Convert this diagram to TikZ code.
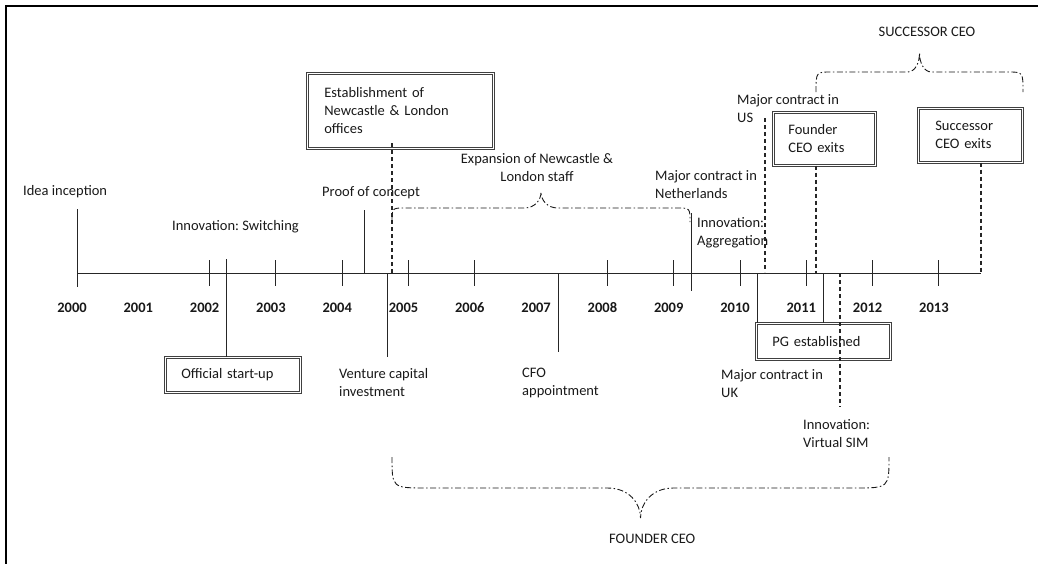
\documentclass[tikz,border=0pt]{standalone}
\usepackage{fontspec}
\setmainfont{Carlito}
\frenchspacing
\begin{document}
\begin{tikzpicture}[x=1pt,y=-1pt,
  every node/.style={font=\fontsize{14.5}{18}\selectfont, text=black!90},
  txt/.style={inner sep=0pt, anchor=west, align=left},
  yr/.style={inner sep=0pt, font=\fontsize{14.5}{18}\selectfont\bfseries},
  evbox/.style={draw=black!75, double=white, double distance=1.3pt, line width=0.6pt,
     align=left, anchor=north west, inner ysep=0pt},
  ln/.style={draw=black!85, line width=1pt},
  dsh/.style={draw=black!85, line width=1.1pt, dash pattern=on 4pt off 3pt},
  brc/.style={draw=black!90, line width=0.9pt, dash pattern=on 6pt off 2.5pt on 1.5pt off 2.5pt},
  frm/.style={draw=black, line width=2pt}
]
\useasboundingbox (0,0) rectangle (1038,563);
\newcommand\ceobrace[7]{%
 \pgfmathsetmacro\bxm{(#1+#2)/2}%
 \pgfmathsetmacro\bya{#4+0.5*(#5-#4)}%
 \draw[brc] (#1,#3) .. controls (#1,#4) .. ({#1+#6},#4) -- ({\bxm-#7},#4)
   .. controls ({\bxm-0.35*#7},#4) and (\bxm,\bya) .. (\bxm,#5)
   .. controls (\bxm,\bya) and ({\bxm+0.35*#7},#4) .. ({\bxm+#7},#4)
   -- ({#2-#6},#4) .. controls (#2,#4) .. (#2,#3);
}
% frame
\coordinate (fa) at (6,570);
\coordinate (fb) at (6,6);
\coordinate (fc) at (1045,6);
\draw[frm] (fa) -- (fb) -- (fc);

% timeline
\coordinate (t0) at (77,273);
\coordinate (tend) at (981,273);
\draw[ln] (t0) -- (tend);
\foreach \k in {2,3,4,5,6,8,9,10,11,12,13}
  \draw[ln] ({77+66.3*\k},260) -- ({77+66.3*\k},286);
\foreach \k in {0,...,13}{
  \pgfmathtruncatemacro\yy{2000+\k}
  \node[yr] (y\k) at ({72+66.3*\k},308) {\yy};
}

% boxes
\node[evbox, text width=152pt, inner xsep=17pt, minimum height=75pt] (estab) at (307,73)
  {Establishment of\\Newcastle \& London\\offices};
\node[evbox, text width=72pt, inner xsep=15pt, minimum height=53pt] (fexit) at (773,112)
  {Founder\\CEO exits};
\node[evbox, text width=70pt, inner xsep=17pt, minimum height=54pt] (sexit) at (918,108)
  {Successor\\CEO exits};
\node[evbox, text width=103pt, inner xsep=16pt, minimum height=35pt] (start) at (165,357)
  {Official start-up};
\node[evbox, text width=102pt, inner xsep=16pt, minimum height=36pt] (pg) at (756,323)
  {PG established};

% labels
\node[txt] (lidea) at (23,192) {Idea inception};
\node[txt] (lswitch) at (172,227) {Innovation: Switching};
\node[txt] (lproof) at (322,193) {Proof of concept};
\node[txt, anchor=center, align=center] (lexp) at (537,167.5) {Expansion of Newcastle \&\\London staff};
\node[txt] (lneth) at (655,184.5) {Major contract in\\Netherlands};
\node[txt] (laggr) at (697,233) {Innovation:\\Aggregation};
\node[txt] (lus) at (737,108.5) {Major contract in\\US};
\node[inner sep=0pt] (lsucc) at (927,31.5) {SUCCESSOR CEO};
\node[txt] (lvc) at (339,383) {Venture capital\\investment};
\node[txt] (lcfo) at (522,383) {CFO\\appointment};
\node[txt] (luk) at (721,384) {Major contract in\\UK};
\node[txt] (lsim) at (803,433.5) {Innovation:\\Virtual SIM};
\node[txt] (lfound) at (609,539) {FOUNDER CEO};

% event lines
\coordinate (eidea) at (77,209);  \coordinate (eidea2) at (77,287);
\draw[ln] (eidea) -- (eidea2);
\coordinate (esw) at (226,259);
\draw[ln] (esw) -- (esw |- start.north);
\coordinate (epr) at (364,210); \coordinate (epr2) at (364,273);
\draw[ln] (epr) -- (epr2);
\coordinate (evc) at (387,273); \coordinate (evc2) at (387,357);
\draw[ln] (evc) -- (evc2);
\coordinate (ees) at (392,143); \coordinate (ees2) at (392,273);
\draw[dsh] (ees) -- (ees2);
\coordinate (ecfo) at (558,273); \coordinate (ecfo2) at (558,352);
\draw[ln] (ecfo) -- (ecfo2);
\coordinate (enl) at (691,213); \coordinate (enl2) at (691,291);
\draw[ln] (enl) -- (enl2);
\coordinate (eus) at (765,118); \coordinate (eus2) at (765,272);
\draw[dsh] (eus) -- (eus2);
\coordinate (euk) at (757,273);
\draw[ln] (euk) -- (euk |- pg.north);
\coordinate (efe) at (816,273);
\draw[dsh] (efe |- fexit.south) -- (efe);
\coordinate (epg) at (823,273);
\draw[ln] (epg) -- (epg |- pg.north);
\coordinate (esim) at (840,273); \coordinate (esim2) at (840,407);
\draw[dsh] (esim) -- (esim2);
\draw[dsh] (tend |- sexit.south) -- (tend);

% braces
\ceobrace{392}{690}{222}{208}{192}{13}{17}
\ceobrace{816}{1023}{92}{72}{53}{15}{12}
\ceobrace{392}{889}{457}{488}{518}{35}{33}
\end{tikzpicture}
\end{document}
